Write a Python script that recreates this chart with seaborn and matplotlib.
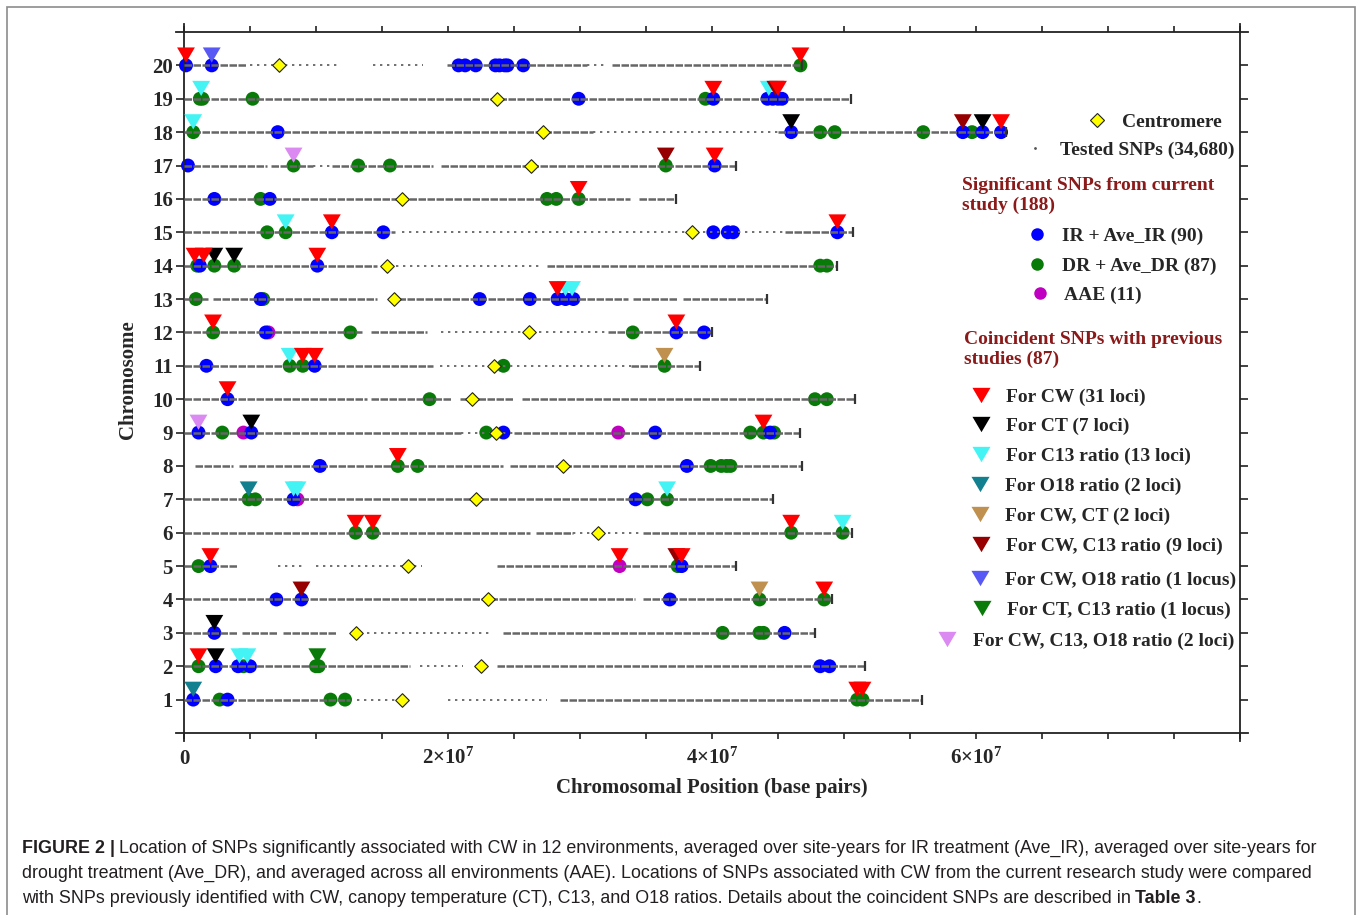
import matplotlib
matplotlib.use("Agg")
import numpy as np
import pandas as pd
import matplotlib.pyplot as plt
import seaborn as sns
from matplotlib.lines import Line2D
from matplotlib.patches import Rectangle
from matplotlib.path import Path

W, H, DPI = 1358, 915, 100

# ---- data (positions in Mb) ----
chromosomes = list(range(1, 21))
chrom_len = [55.9, 51.6, 47.8, 49.1, 41.8, 50.6, 44.6, 46.8, 46.7, 50.8,
             39.1, 40.0, 44.2, 49.5, 50.7, 37.3, 41.8, 62.3, 50.5, 46.8]
centromere = [16.5, 22.5, 13.0, 23.0, 17.0, 31.4, 22.1, 28.7, 23.6, 21.8,
              23.5, 26.1, 15.9, 15.4, 38.5, 16.5, 26.3, 27.2, 23.7, 7.2]

# tested SNPs: dense and sparse stretches (chromosome, start, end)
dense_blocks = [
    (1, 0, 12.6), (1, 28.5, 55.9),
    (2, 0, 17.1), (2, 23.7, 51.6),
    (3, 0, 4.0), (3, 4.4, 7.1), (3, 7.5, 11.6), (3, 24.2, 47.8),
    (4, 0, 34.2), (4, 34.8, 49.1),
    (5, 0, 4.1), (5, 23.7, 41.8),
    (6, 0, 26.2), (6, 26.7, 29.5), (6, 34.8, 50.6),
    (7, 0, 44.6),
    (8, 0.8, 3.7), (8, 4.2, 24.2), (8, 24.7, 46.8),
    (9, 0, 21.0), (9, 25.0, 46.7),
    (10, 0, 13.9), (10, 14.2, 20.3), (10, 20.9, 24.9), (10, 25.6, 50.8),
    (11, 0, 18.9), (11, 33.9, 39.1),
    (12, 0, 13.5), (12, 14.2, 18.4), (12, 32.1, 40.0),
    (13, 0, 1.8), (13, 2.2, 14.6), (13, 15.5, 33.6), (13, 34.0, 37.4), (13, 37.8, 44.2),
    (14, 0, 14.6), (14, 27.5, 49.5),
    (15, 0, 16.0), (15, 45.5, 50.7),
    (16, 0, 33.8), (16, 34.5, 37.3),
    (17, 0, 6.3), (17, 6.6, 9.8), (17, 11.2, 18.9), (17, 19.5, 41.8),
    (18, 0, 31.0), (18, 45.0, 62.3),
    (19, 0, 50.5),
    (20, 0, 4.8), (20, 19.9, 30.5), (20, 32.4, 46.8),
]
sparse_blocks = [
    (1, 13.1, 17.1), (1, 20.0, 27.5), (2, 17.9, 21.1), (3, 13.3, 23.3),
    (5, 7.1, 9.0), (5, 10.0, 18.0), (6, 29.5, 34.8), (9, 21.0, 25.0),
    (11, 19.4, 33.9), (12, 19.5, 32.0), (14, 15.0, 27.0), (15, 16.5, 45.5),
    (17, 9.8, 11.2), (18, 31.0, 45.0), (20, 5.0, 11.6), (20, 14.3, 18.1),
    (20, 30.5, 32.0),
]

# significant SNPs from current study (chromosome, position)
ir_snps = [
    (20, 0.15), (20, 2.1), (20, 20.8), (20, 21.3), (20, 22.1), (20, 23.6), (20, 23.9),
    (20, 24.3), (20, 24.5), (20, 25.7),
    (19, 29.9), (19, 40.1), (19, 44.2), (19, 44.6), (19, 45.0), (19, 45.3),
    (18, 7.1), (18, 46.0), (18, 59.0), (18, 60.5), (18, 61.9),
    (17, 0.3), (17, 40.2), (16, 2.3), (16, 6.5),
    (15, 11.2), (15, 15.1), (15, 40.1), (15, 41.2), (15, 41.6), (15, 49.5),
    (14, 1.2), (14, 10.1),
    (13, 5.8), (13, 22.4), (13, 26.2), (13, 28.3), (13, 28.9), (13, 29.5),
    (12, 6.2), (12, 37.3), (12, 39.4), (11, 1.7), (11, 9.9), (10, 3.3),
    (9, 1.1), (9, 5.1), (9, 24.2), (9, 35.7), (9, 44.4),
    (8, 10.3), (8, 38.1), (7, 8.3), (7, 34.2), (5, 2.0), (5, 37.7),
    (4, 7.0), (4, 8.9), (4, 36.8), (3, 2.3), (3, 45.5),
    (2, 2.4), (2, 4.1), (2, 5.0), (2, 48.2), (2, 48.9), (1, 0.7), (1, 3.3),
]
dr_snps = [
    (20, 46.7), (19, 1.2), (19, 1.4), (19, 5.2), (19, 39.5),
    (18, 0.7), (18, 48.2), (18, 49.3), (18, 56.0), (18, 59.7),
    (17, 8.3), (17, 13.2), (17, 15.6), (17, 36.5),
    (16, 5.8), (16, 27.5), (16, 28.2), (16, 29.9), (15, 6.3), (15, 7.7),
    (14, 1.0), (14, 2.3), (14, 3.8), (14, 48.2), (14, 48.7), (13, 0.9), (13, 6.0),
    (12, 2.2), (12, 12.6), (12, 34.0), (11, 8.0), (11, 9.0), (11, 24.2), (11, 36.4),
    (10, 18.6), (10, 47.8), (10, 48.7),
    (9, 2.9), (9, 22.9), (9, 42.9), (9, 43.9), (9, 44.7),
    (8, 16.2), (8, 17.7), (8, 39.9), (8, 40.7), (8, 41.1), (8, 41.4),
    (7, 4.9), (7, 5.4), (7, 35.1), (7, 36.6),
    (6, 13.0), (6, 14.3), (6, 46.0), (6, 49.9), (5, 1.1), (5, 37.4),
    (4, 43.6), (4, 48.5), (3, 40.8), (3, 43.6), (3, 43.9),
    (2, 1.1), (2, 4.5), (2, 10.0), (2, 10.2),
    (1, 2.7), (1, 11.1), (1, 12.2), (1, 51.0), (1, 51.4),
]
aae_snps = [(12, 6.4), (9, 4.5), (9, 32.9), (7, 8.6), (5, 33.0)]

# coincident SNPs with previous studies
c13_loci = [(19, 1.3), (19, 44.3), (18, 0.7), (15, 7.7), (13, 28.9), (13, 29.4),
            (11, 8.0), (7, 8.3), (7, 8.6), (7, 36.6), (6, 49.9), (2, 4.2), (2, 4.8)]
o18_loci = [(7, 4.9), (1, 0.7)]
cw_ct_loci = [(11, 36.4), (4, 43.6)]
cw_c13_loci = [(19, 44.8), (18, 59.0), (17, 36.5), (5, 37.3), (4, 8.9)]
cw_o18_loci = [(20, 2.1)]
ct_c13_loci = [(2, 10.1)]
cw_c13_o18_loci = [(17, 8.3), (9, 1.1)]
ct_loci = [(18, 46.0), (18, 60.5), (14, 2.3), (14, 3.8), (9, 5.1), (3, 2.3), (2, 2.4)]
cw_loci = [(20, 0.15), (20, 46.7), (19, 40.1), (19, 45.0), (18, 61.9), (17, 40.2),
           (16, 29.9), (15, 11.2), (15, 49.5), (14, 0.8), (14, 1.5), (14, 10.1),
           (13, 28.3), (12, 2.2), (12, 37.3), (11, 9.0), (11, 9.9), (10, 3.3),
           (9, 43.9), (8, 16.2), (6, 13.0), (6, 14.3), (6, 46.0), (5, 2.0),
           (5, 33.0), (5, 37.7), (4, 48.5), (2, 1.1), (1, 51.0), (1, 51.4)]

circle_colors = {"AAE": "#c000c0", "DR": "#087a08", "IR": "#0000ff"}
tri_colors = {"C13": "#44f4f4", "O18": "#12808f", "CW_CT": "#c0904e",
              "CW_C13": "#960000", "CW_O18": "#5858f4", "CT_C13": "#0a7a0a",
              "CW_C13_O18": "#da8af0", "CT": "#000000", "CW": "#ff0000"}
tri_labels = {"CW": "For CW (31 loci)", "CT": "For CT (7 loci)",
              "C13": "For C13 ratio (13 loci)", "O18": "For O18 ratio (2 loci)",
              "CW_CT": "For CW, CT (2 loci)", "CW_C13": "For CW, C13 ratio (9 loci)",
              "CW_O18": "For CW, O18 ratio (1 locus)",
              "CT_C13": "For CT, C13 ratio (1 locus)",
              "CW_C13_O18": "For CW, C13, O18 ratio (2 loci)"}

# ---- style ----
sns.set_style("ticks")
plt.rcParams["font.family"] = ["Liberation Serif", "DejaVu Serif"]
plt.rcParams["mathtext.fontset"] = "custom"
plt.rcParams["mathtext.rm"] = "Liberation Serif"
plt.rcParams["mathtext.bf"] = "Liberation Serif:bold"

TRI = Path([(-1, 0.85), (1, 0.85), (0, -0.85), (-1, 0.85)])
MB = 1e6

fig = plt.figure(figsize=(W / DPI, H / DPI), dpi=DPI)
ax = fig.add_axes([184 / W, 1 - 733 / H, 1056 / W, 701 / H])

# circles
rows = []
for grp, snps in [("AAE", aae_snps), ("DR", dr_snps), ("IR", ir_snps)]:
    rows += [{"group": grp, "chrom": c, "pos": p * MB} for c, p in snps]
sig = pd.DataFrame(rows)
sns.scatterplot(data=sig, x="pos", y="chrom", hue="group", palette=circle_colors,
                s=100, linewidth=0, legend=False, ax=ax, zorder=2, clip_on=False)

# tested SNP lines
for c, a, b in dense_blocks:
    ax.hlines(c, a * MB, b * MB, colors="#666666", lw=1.8,
              linestyles=(0, (3.0, 0.6)), zorder=3)
for c, a, b in sparse_blocks:
    ax.hlines(c, a * MB, b * MB, colors="#707070", lw=1.4,
              linestyles=(0, (1.2, 2.4)), zorder=3)
sns.scatterplot(x=np.array(chrom_len) * MB, y=chromosomes, marker="|", s=45,
                color="#333333", linewidth=1.6, ax=ax, zorder=3)

# centromeres
sns.scatterplot(x=np.array(centromere) * MB, y=chromosomes, marker="D", s=48,
                color="#ffff00", edgecolor="#222222", linewidth=0.8, ax=ax, zorder=5)

# triangles
tri_groups = [("C13", c13_loci), ("O18", o18_loci), ("CW_CT", cw_ct_loci),
              ("CW_C13", cw_c13_loci), ("CW_O18", cw_o18_loci), ("CT_C13", ct_c13_loci),
              ("CW_C13_O18", cw_c13_o18_loci), ("CT", ct_loci), ("CW", cw_loci)]
rows = []
for kind, loci in tri_groups:
    rows += [{"kind": kind, "y": c + 0.31, "pos": p * MB} for c, p in loci]
tri = pd.DataFrame(rows)
sns.scatterplot(data=tri, x="pos", y="y", hue="kind", palette=tri_colors, marker=TRI,
                s=165, linewidth=0, legend=False, ax=ax, zorder=6, clip_on=False)

# axes
ax.set_xlim(0, 8e7)
ax.set_ylim(0, 21)
ax.set_yticks(chromosomes)
ax.set_yticklabels([str(c) for c in chromosomes], fontweight="bold")
ax.set_xticks([0, 2e7, 4e7, 6e7])
ax.set_xticklabels(["0", r"$\mathbf{2{\times}10^{7}}$", r"$\mathbf{4{\times}10^{7}}$",
                    r"$\mathbf{6{\times}10^{7}}$"], fontweight="bold")
ax.set_xticks(np.arange(0, 8.01e7, 5e6), minor=True)
ax.tick_params(which="both", direction="out", top=True, right=True,
               labeltop=False, labelright=False, color="#222222")
ax.tick_params(axis="y", length=6, width=1.2, pad=2, labelsize=15)
ax.tick_params(axis="x", which="major", length=4, width=1.2, labelsize=15, pad=18)
ax.tick_params(axis="x", which="minor", length=4, width=1.2)
plt.setp(ax.get_xticklabels(), va="baseline")
for name, sp in ax.spines.items():
    sp.set_linewidth(1.3)
    sp.set_color("#222222")
ax.spines["left"].set_bounds(-0.25, 21.25)
ax.spines["right"].set_bounds(-0.25, 21.25)
ax.spines["top"].set_bounds(-0.6e6, 80.6e6)
ax.spines["bottom"].set_bounds(-0.6e6, 80.6e6)

ax.set_xlabel("Chromosomal Position (base pairs)", fontsize=15, fontweight="bold")
ax.xaxis.set_label_coords(0.5, (733 - 788) / 701)
ax.xaxis.label.set_va("center")
ax.set_ylabel("Chromosome", fontsize=15, fontweight="bold")
ax.yaxis.set_label_coords((128 - 184) / 1056, (733 - 380) / 701)
ax.yaxis.label.set_va("center")

# ---- legend ----
LEG_FS = 14
FPX = LEG_FS * DPI / 72


def legend_row(handle, label, mx, my, tx):
    hl = 1.0
    pad = (tx - mx) / FPX - hl / 2
    leg = fig.legend([handle], [label], loc="center left",
                     bbox_to_anchor=((mx - hl * FPX / 2) / W, 1 - my / H),
                     bbox_transform=fig.transFigure, frameon=False,
                     handlelength=hl, handletextpad=pad, borderpad=0,
                     borderaxespad=0, prop={"weight": "bold", "size": LEG_FS})
    return leg


def mk(marker, color, ms, **kw):
    return Line2D([], [], marker=marker, color=color, ms=ms, linestyle="none", **kw)


legend_row(mk("D", "#ffff00", 7, markeredgecolor="#222222", markeredgewidth=0.8),
           "Centromere", 1097, 122, 1122)
legend_row(mk(".", "#555555", 2), "Tested SNPs (34,680)", 1035, 150, 1060)
legend_row(mk("o", circle_colors["IR"], 9, markeredgewidth=0), "IR + Ave_IR (90)", 1037, 236, 1062)
legend_row(mk("o", circle_colors["DR"], 9, markeredgewidth=0), "DR + Ave_DR (87)", 1037, 266, 1062)
legend_row(mk("o", circle_colors["AAE"], 9, markeredgewidth=0), "AAE (11)", 1040, 295, 1064)

tri_rows = [("CW", 981, 397, 1006), ("CT", 981, 426, 1006), ("C13", 981, 456, 1006),
            ("O18", 980, 486, 1005), ("CW_CT", 980, 516, 1005), ("CW_C13", 981, 546, 1006),
            ("CW_O18", 980, 580, 1005), ("CT_C13", 982, 610, 1007),
            ("CW_C13_O18", 947, 641, 973)]
for kind, mx, my, tx in tri_rows:
    legend_row(mk(TRI, tri_colors[kind], 13, markeredgewidth=0), tri_labels[kind], mx, my, tx)

HEAD = "#8b1a1a"
for txt, x, y in [("Significant SNPs from current", 962, 185), ("study (188)", 962, 205),
                  ("Coincident SNPs with previous", 964, 339), ("studies (87)", 964, 359)]:
    fig.text(x / W, 1 - y / H, txt, color=HEAD, fontsize=LEG_FS, fontweight="bold",
             va="center", ha="left")

# ---- caption ----
CAP_FS = 12.85
CAP_FAM = ["Liberation Sans", "DejaVu Sans"]
CAP_COL = "#231f20"
renderer = fig.canvas.get_renderer()


def cap_line(parts, x, y):
    for txt, bold, gap in parts:
        t = fig.text(x / W, 1 - y / H, txt, fontsize=CAP_FS, family=CAP_FAM,
                     fontweight="bold" if bold else "normal", color=CAP_COL,
                     va="baseline", ha="left")
        x = t.get_window_extent(renderer).x1 + gap


cap_line([("FIGURE 2 |", True, 4),
          ("Location of SNPs significantly associated with CW in 12 environments, averaged "
           "over site-years for IR treatment (Ave_IR), averaged over site-years for", False, 0)],
         22, 853)
cap_line([("drought treatment (Ave_DR), and averaged across all environments (AAE). Locations "
           "of SNPs associated with CW from the current research study were compared", False, 0)],
         22, 878)
cap_line([("with SNPs previously identified with CW, canopy temperature (CT), C13, and O18 "
           "ratios. Details about the coincident SNPs are described in", False, 4),
          ("Table 3", True, 0.5), (".", False, 0)], 22, 903)

fig.add_artist(Rectangle((7 / W, -0.05), (1355 - 7) / W, 1 - 7 / H + 0.05,
                         transform=fig.transFigure, fill=False,
                         edgecolor="#8c8c8c", lw=1.2))

fig.savefig("out.png", dpi=DPI)
